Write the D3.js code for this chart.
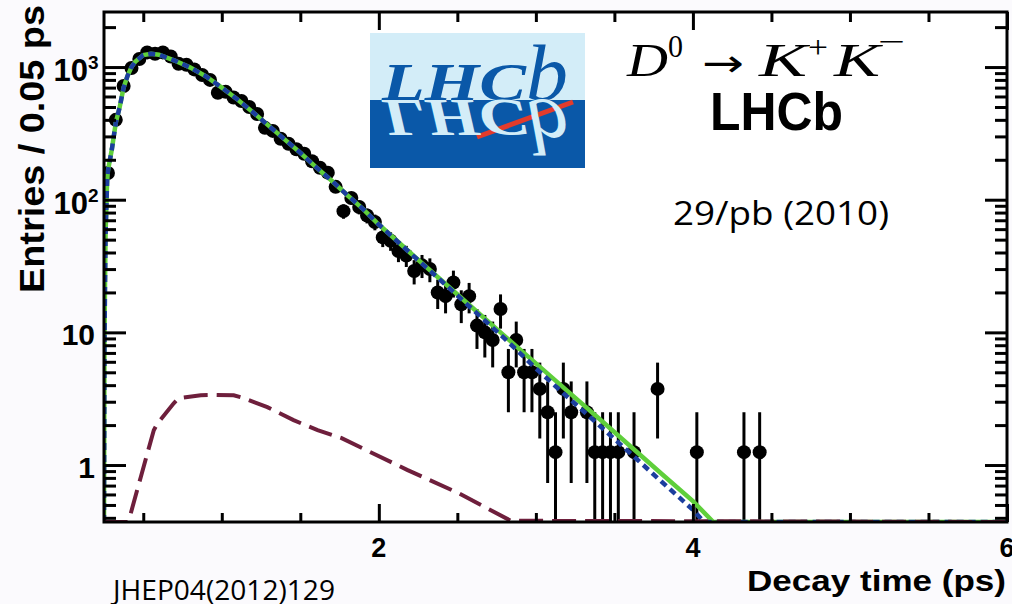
<!DOCTYPE html>
<html>
<head>
<meta charset="utf-8">
<script src="https://cdn.jsdelivr.net/npm/d3@7"></script>
<style>
  html, body { margin: 0; padding: 0; background: #fbfafd; }
  svg { display: block; }
</style>
</head>
<body>
<svg id="chart" width="1012" height="604"></svg>
<script>

// ---------------- data ----------------
// bin centres (ps), 0.05 ps bins
var binTimes = [0.275, 0.325, 0.375, 0.425, 0.475, 0.525, 0.575, 0.625, 0.675, 0.725,
  0.775, 0.825, 0.875, 0.925, 0.975, 1.025, 1.075, 1.125, 1.175, 1.225,
  1.275, 1.325, 1.375, 1.425, 1.475, 1.525, 1.575, 1.625, 1.675, 1.725,
  1.775, 1.825, 1.875, 1.925, 1.975, 2.025, 2.075, 2.125, 2.175, 2.225,
  2.275, 2.325, 2.375, 2.425, 2.475, 2.525, 2.575, 2.625, 2.675, 2.725,
  2.775, 2.825, 2.875, 2.925, 2.975, 3.025, 3.075, 3.125, 3.175, 3.225,
  3.325, 3.375, 3.425, 3.475, 3.525, 3.625, 3.775, 4.025, 4.325, 4.425];

// entries per bin (weighted, 1.25 per event)
var binEntries = [159, 400, 719, 983, 1150, 1290, 1260, 1290, 1200, 1060,
  1040, 960, 870, 800, 640, 650, 590, 555, 500, 443,
  348, 330, 288, 264, 240, 222, 195, 174, 160, 125,
  82, 103, 88, 76, 68, 52, 49, 41, 38, 29,
  32, 30, 20, 18.75, 23.75, 16.25, 18.75, 11.25, 10, 8.75,
  15, 5, 8.75, 5, 5, 3.75, 2.5, 1.25, 3.75, 2.5,
  2.5, 1.25, 1.25, 1.25, 1.25, 1.25, 3.75, 1.25, 1.25, 1.25];
var entryWeight = 1.25;

// total fit (green solid)
var totalTimes = [0.25, 0.253, 0.256, 0.26, 0.27, 0.275, 0.3, 0.325, 0.35, 0.375, 0.4, 0.425, 0.45,
  0.5, 0.55, 0.6, 0.7, 0.8, 0.9, 1.0, 1.1, 1.2, 1.3, 1.4, 1.5, 1.6, 1.7, 1.8, 1.9, 2.0,
  2.2, 2.4, 2.6, 2.8, 3.0, 3.2, 3.4, 3.6, 3.8, 4.0, 4.13, 6.0];
var totalValues = [0.37, 8, 21, 55, 139, 165, 240, 380, 500, 700, 860, 1000, 1100,
  1230, 1260, 1240, 1120, 990, 850, 700, 570, 455, 360, 285, 226, 176, 139, 108, 85, 65,
  39.8, 24.6, 15.2, 9.4, 5.84, 3.62, 2.25, 1.39, 0.86, 0.534, 0.37, 0.37];

// signal component (blue dotted)
var signalTimes = [0.25, 0.253, 0.256, 0.26, 0.27, 0.275, 0.3, 0.325, 0.35, 0.375, 0.4, 0.425, 0.45,
  0.5, 0.55, 0.6, 0.7, 0.8, 0.9, 1.0, 1.1, 1.2, 1.3, 1.4, 1.5, 1.6, 1.7, 1.8, 1.9, 2.0,
  2.2, 2.4, 2.6, 2.8, 3.0, 3.2, 3.4, 3.6, 3.8, 4.0, 4.07, 6.0];
var signalValues = [0.37, 8, 21, 55, 139, 165, 240, 380, 500, 700, 860, 1000, 1100,
  1230, 1260, 1240, 1120, 990, 850, 700, 570, 455, 360, 285, 226, 176, 139, 108, 85, 65,
  39.6, 24.3, 14.8, 9.0, 5.35, 3.27, 2.01, 1.23, 0.75, 0.46, 0.37, 0.37];

// background component (maroon long dashes)
var bkgTimes = [0.25, 0.40, 0.41, 0.484, 0.567, 0.592, 0.694, 0.726, 0.866, 0.96, 1.076,
  1.12, 1.29, 1.457, 1.61, 1.76, 2.18, 2.50, 2.84, 6.0];
var bkgValues = [0.37, 0.37, 0.39, 0.81, 1.83, 2.07, 2.92, 3.19, 3.36, 3.38, 3.36,
  3.25, 2.73, 2.18, 1.83, 1.6, 0.92, 0.62, 0.38, 0.37];

// axis ticks
var xMajorTicks = [2, 4, 6];
var xMinorTicks = [0.5, 1, 1.5, 2.5, 3, 3.5, 4.5, 5, 5.5];
var yMajorTicks = [1, 10, 100, 1000];
var yMinorTicks = [0.4, 0.5, 0.6, 0.7, 0.8, 0.9, 2, 3, 4, 5, 6, 7, 8, 9,
  20, 30, 40, 50, 60, 70, 80, 90, 200, 300, 400, 500, 600, 700, 800, 900, 2000];
var yTickBase = ["1", "10", "10", "10"];
var yTickExp = ["", "", "2", "3"];

// ---------------- layout ----------------
var attrs = {
  width: 1012, height: 604,
  left: 104, right: 1007, top: 12, bottom: 522,
  yMin: 0.372, yMax: 2600,
  boldFont: '"Liberation Sans", Arial, Helvetica, sans-serif',
  textFont: '"Open Sans", "Noto Sans", sans-serif'
};

var svg = d3.select('#chart');

svg.append('rect').attr('width', attrs.width).attr('height', attrs.height).attr('fill', '#fbfafd');
svg.append('rect')
  .attr('x', attrs.left).attr('y', attrs.top)
  .attr('width', attrs.right - attrs.left).attr('height', attrs.bottom - attrs.top)
  .attr('fill', '#ffffff');

var x = d3.scaleLinear().domain([0.25, 6]).range([attrs.left, attrs.right]);
var y = d3.scaleLog().domain([attrs.yMin, attrs.yMax]).range([attrs.bottom, attrs.top]);

function clampY(v) { return y(Math.max(attrs.yMin, Math.min(attrs.yMax, v))); }

svg.append('clipPath').attr('id', 'plot-clip')
  .append('rect')
  .attr('x', attrs.left).attr('y', attrs.top)
  .attr('width', attrs.right - attrs.left).attr('height', attrs.bottom - attrs.top);

var plot = svg.append('g').attr('clip-path', 'url(#plot-clip)');

// ---------------- LHCb logo ----------------
var logo = svg.append('g').attr('class', 'logo');
logo.append('rect').attr('x', 370).attr('y', 33).attr('width', 215).attr('height', 67).attr('fill', '#d3edf8');
logo.append('rect').attr('x', 370).attr('y', 100).attr('width', 215).attr('height', 68).attr('fill', '#0a58a8');

function logoWord(g, color) {
  g.append('text')
    .attr('x', 382).attr('y', 100)
    .attr('font-family', '"Liberation Serif", "DejaVu Serif", serif')
    .attr('font-style', 'italic').attr('font-weight', 'bold').attr('font-size', 52)
    .attr('textLength', 144).attr('lengthAdjust', 'spacingAndGlyphs')
    .attr('fill', color).text('LHC');
  g.append('text')
    .attr('x', 526).attr('y', 100)
    .attr('font-family', '"Liberation Serif", "DejaVu Serif", serif')
    .attr('font-style', 'italic').attr('font-size', 80)
    .attr('textLength', 42).attr('lengthAdjust', 'spacingAndGlyphs')
    .attr('fill', color).text('b');
}
logoWord(logo.append('g'), '#0a58a8');
logo.append('line')
  .attr('x1', 477).attr('y1', 137).attr('x2', 573).attr('y2', 102)
  .attr('stroke', '#e33b2b').attr('stroke-width', 5);
logoWord(logo.append('g').attr('transform', 'translate(0,200) scale(1,-1)'), '#d3edf8');

// ---------------- data points ----------------
var points = binTimes.map(function (t, i) {
  var v = binEntries[i];
  var err = Math.sqrt(entryWeight * v);
  return { t: t, v: v, lo: v - err, hi: v + err };
});

plot.selectAll('.err-bar').data(points).enter().append('line')
  .attr('class', 'err-bar')
  .attr('x1', d => x(d.t)).attr('x2', d => x(d.t))
  .attr('y1', d => clampY(d.lo)).attr('y2', d => clampY(d.hi))
  .attr('stroke', '#000').attr('stroke-width', 3);

plot.selectAll('.pt').data(points).enter().append('circle')
  .attr('class', 'pt')
  .attr('cx', d => x(d.t)).attr('cy', d => clampY(d.v))
  .attr('r', 7).attr('fill', '#000');

// ---------------- fit curves ----------------
var line = d3.line()
  .x(d => x(d[0]))
  .y(d => clampY(d[1]));

plot.append('path')
  .datum(totalTimes.map((t, i) => [t, totalValues[i]]))
  .attr('d', line).attr('fill', 'none')
  .attr('stroke', '#5fcf3b').attr('stroke-width', 4.5);

plot.append('path')
  .datum(signalTimes.map((t, i) => [t, signalValues[i]]))
  .attr('d', line).attr('fill', 'none')
  .attr('stroke', '#1c3e9e').attr('stroke-width', 4.5)
  .attr('stroke-dasharray', '7,5');

plot.append('path')
  .datum(bkgTimes.map((t, i) => [t, bkgValues[i]]))
  .attr('d', line).attr('fill', 'none')
  .attr('stroke', '#6e1f3c').attr('stroke-width', 4)
  .attr('stroke-dasharray', '24,9');

// ---------------- axes (ticks only, frame drawn separately) ----------------
function tickAxis(axis, size, values, transform) {
  svg.append('g')
    .attr('transform', transform)
    .call(axis.tickValues(values).tickSize(size).tickFormat(''))
    .call(g => g.select('.domain').remove())
    .call(g => g.selectAll('line').attr('stroke', '#000').attr('stroke-width', 3));
}

tickAxis(d3.axisBottom(x), -18, xMajorTicks, 'translate(0,' + attrs.bottom + ')');
tickAxis(d3.axisBottom(x), -9, xMinorTicks, 'translate(0,' + attrs.bottom + ')');
tickAxis(d3.axisTop(x), -18, xMajorTicks, 'translate(0,' + attrs.top + ')');
tickAxis(d3.axisTop(x), -10, xMinorTicks, 'translate(0,' + attrs.top + ')');
tickAxis(d3.axisLeft(y), -22, yMajorTicks, 'translate(' + attrs.left + ',0)');
tickAxis(d3.axisLeft(y), -12, yMinorTicks, 'translate(' + attrs.left + ',0)');
tickAxis(d3.axisRight(y), -22, yMajorTicks, 'translate(' + attrs.right + ',0)');
tickAxis(d3.axisRight(y), -12, yMinorTicks, 'translate(' + attrs.right + ',0)');

// frame
svg.append('rect')
  .attr('x', attrs.left).attr('y', attrs.top)
  .attr('width', attrs.right - attrs.left).attr('height', attrs.bottom - attrs.top)
  .attr('fill', 'none').attr('stroke', '#000').attr('stroke-width', 3);

// x tick labels
svg.selectAll('.x-label').data(xMajorTicks).enter().append('text')
  .attr('class', 'x-label')
  .attr('x', d => x(d)).attr('y', 557)
  .attr('text-anchor', 'middle')
  .attr('font-family', attrs.boldFont).attr('font-weight', 'bold').attr('font-size', 27)
  .attr('fill', '#000')
  .text(d => d);

// y tick labels with exponents
yMajorTicks.forEach(function (v, i) {
  var ty = y(v);
  if (yTickExp[i] === '') {
    svg.append('text')
      .attr('x', 95).attr('y', ty + 13)
      .attr('text-anchor', 'end')
      .attr('font-family', attrs.boldFont).attr('font-weight', 'bold').attr('font-size', 30)
      .text(yTickBase[i]);
  } else {
    svg.append('text')
      .attr('x', 88).attr('y', ty + 14)
      .attr('text-anchor', 'end')
      .attr('font-family', attrs.boldFont).attr('font-weight', 'bold').attr('font-size', 31)
      .text(yTickBase[i]);
    svg.append('text')
      .attr('x', 88).attr('y', ty + 2)
      .attr('font-family', attrs.boldFont).attr('font-weight', 'bold').attr('font-size', 19)
      .text(yTickExp[i]);
  }
});

// axis titles
svg.append('text')
  .attr('transform', 'translate(44,293) rotate(-90)')
  .attr('font-family', attrs.boldFont).attr('font-weight', 'bold').attr('font-size', 35)
  .attr('textLength', 288).attr('lengthAdjust', 'spacingAndGlyphs')
  .text('Entries / 0.05 ps');

svg.append('text')
  .attr('x', 747).attr('y', 591)
  .attr('font-family', attrs.boldFont).attr('font-weight', 'bold').attr('font-size', 30)
  .attr('textLength', 259).attr('lengthAdjust', 'spacingAndGlyphs')
  .text('Decay time (ps)');

// ---------------- annotations ----------------
var serif = '"Liberation Serif", "DejaVu Serif", serif';
var decay = svg.append('g').attr('class', 'decay-label');
function mathPart(px, py, size, italic, width, str, family) {
  decay.append('text').attr('x', px).attr('y', py)
    .attr('font-family', family || serif).attr('font-style', italic ? 'italic' : 'normal')
    .attr('font-size', size)
    .attr('textLength', width).attr('lengthAdjust', 'spacingAndGlyphs')
    .text(str);
}
mathPart(627, 76, 46, true, 41, 'D');
mathPart(668, 57, 31, false, 15, '0');
mathPart(702, 76, 38, false, 42, '\u2192', '"DejaVu Sans", sans-serif');
mathPart(759, 76, 46, true, 48, 'K');
mathPart(808, 58, 31, false, 20, '+');
mathPart(834, 76, 46, true, 46, 'K');
mathPart(878, 52, 31, false, 27, '\u2212');

svg.append('text')
  .attr('x', 710).attr('y', 130)
  .attr('font-family', attrs.boldFont).attr('font-weight', 'bold').attr('font-size', 53)
  .attr('textLength', 133).attr('lengthAdjust', 'spacingAndGlyphs')
  .text('LHCb');

svg.append('text')
  .attr('x', 673).attr('y', 225)
  .attr('font-family', attrs.textFont).attr('font-size', 33)
  .attr('textLength', 216).attr('lengthAdjust', 'spacingAndGlyphs')
  .text('29/pb (2010)');

svg.append('text')
  .attr('x', 113).attr('y', 600)
  .attr('font-family', attrs.textFont).attr('font-size', 27)
  .attr('textLength', 222).attr('lengthAdjust', 'spacingAndGlyphs')
  .text('JHEP04(2012)129');

</script>
</body>
</html>
